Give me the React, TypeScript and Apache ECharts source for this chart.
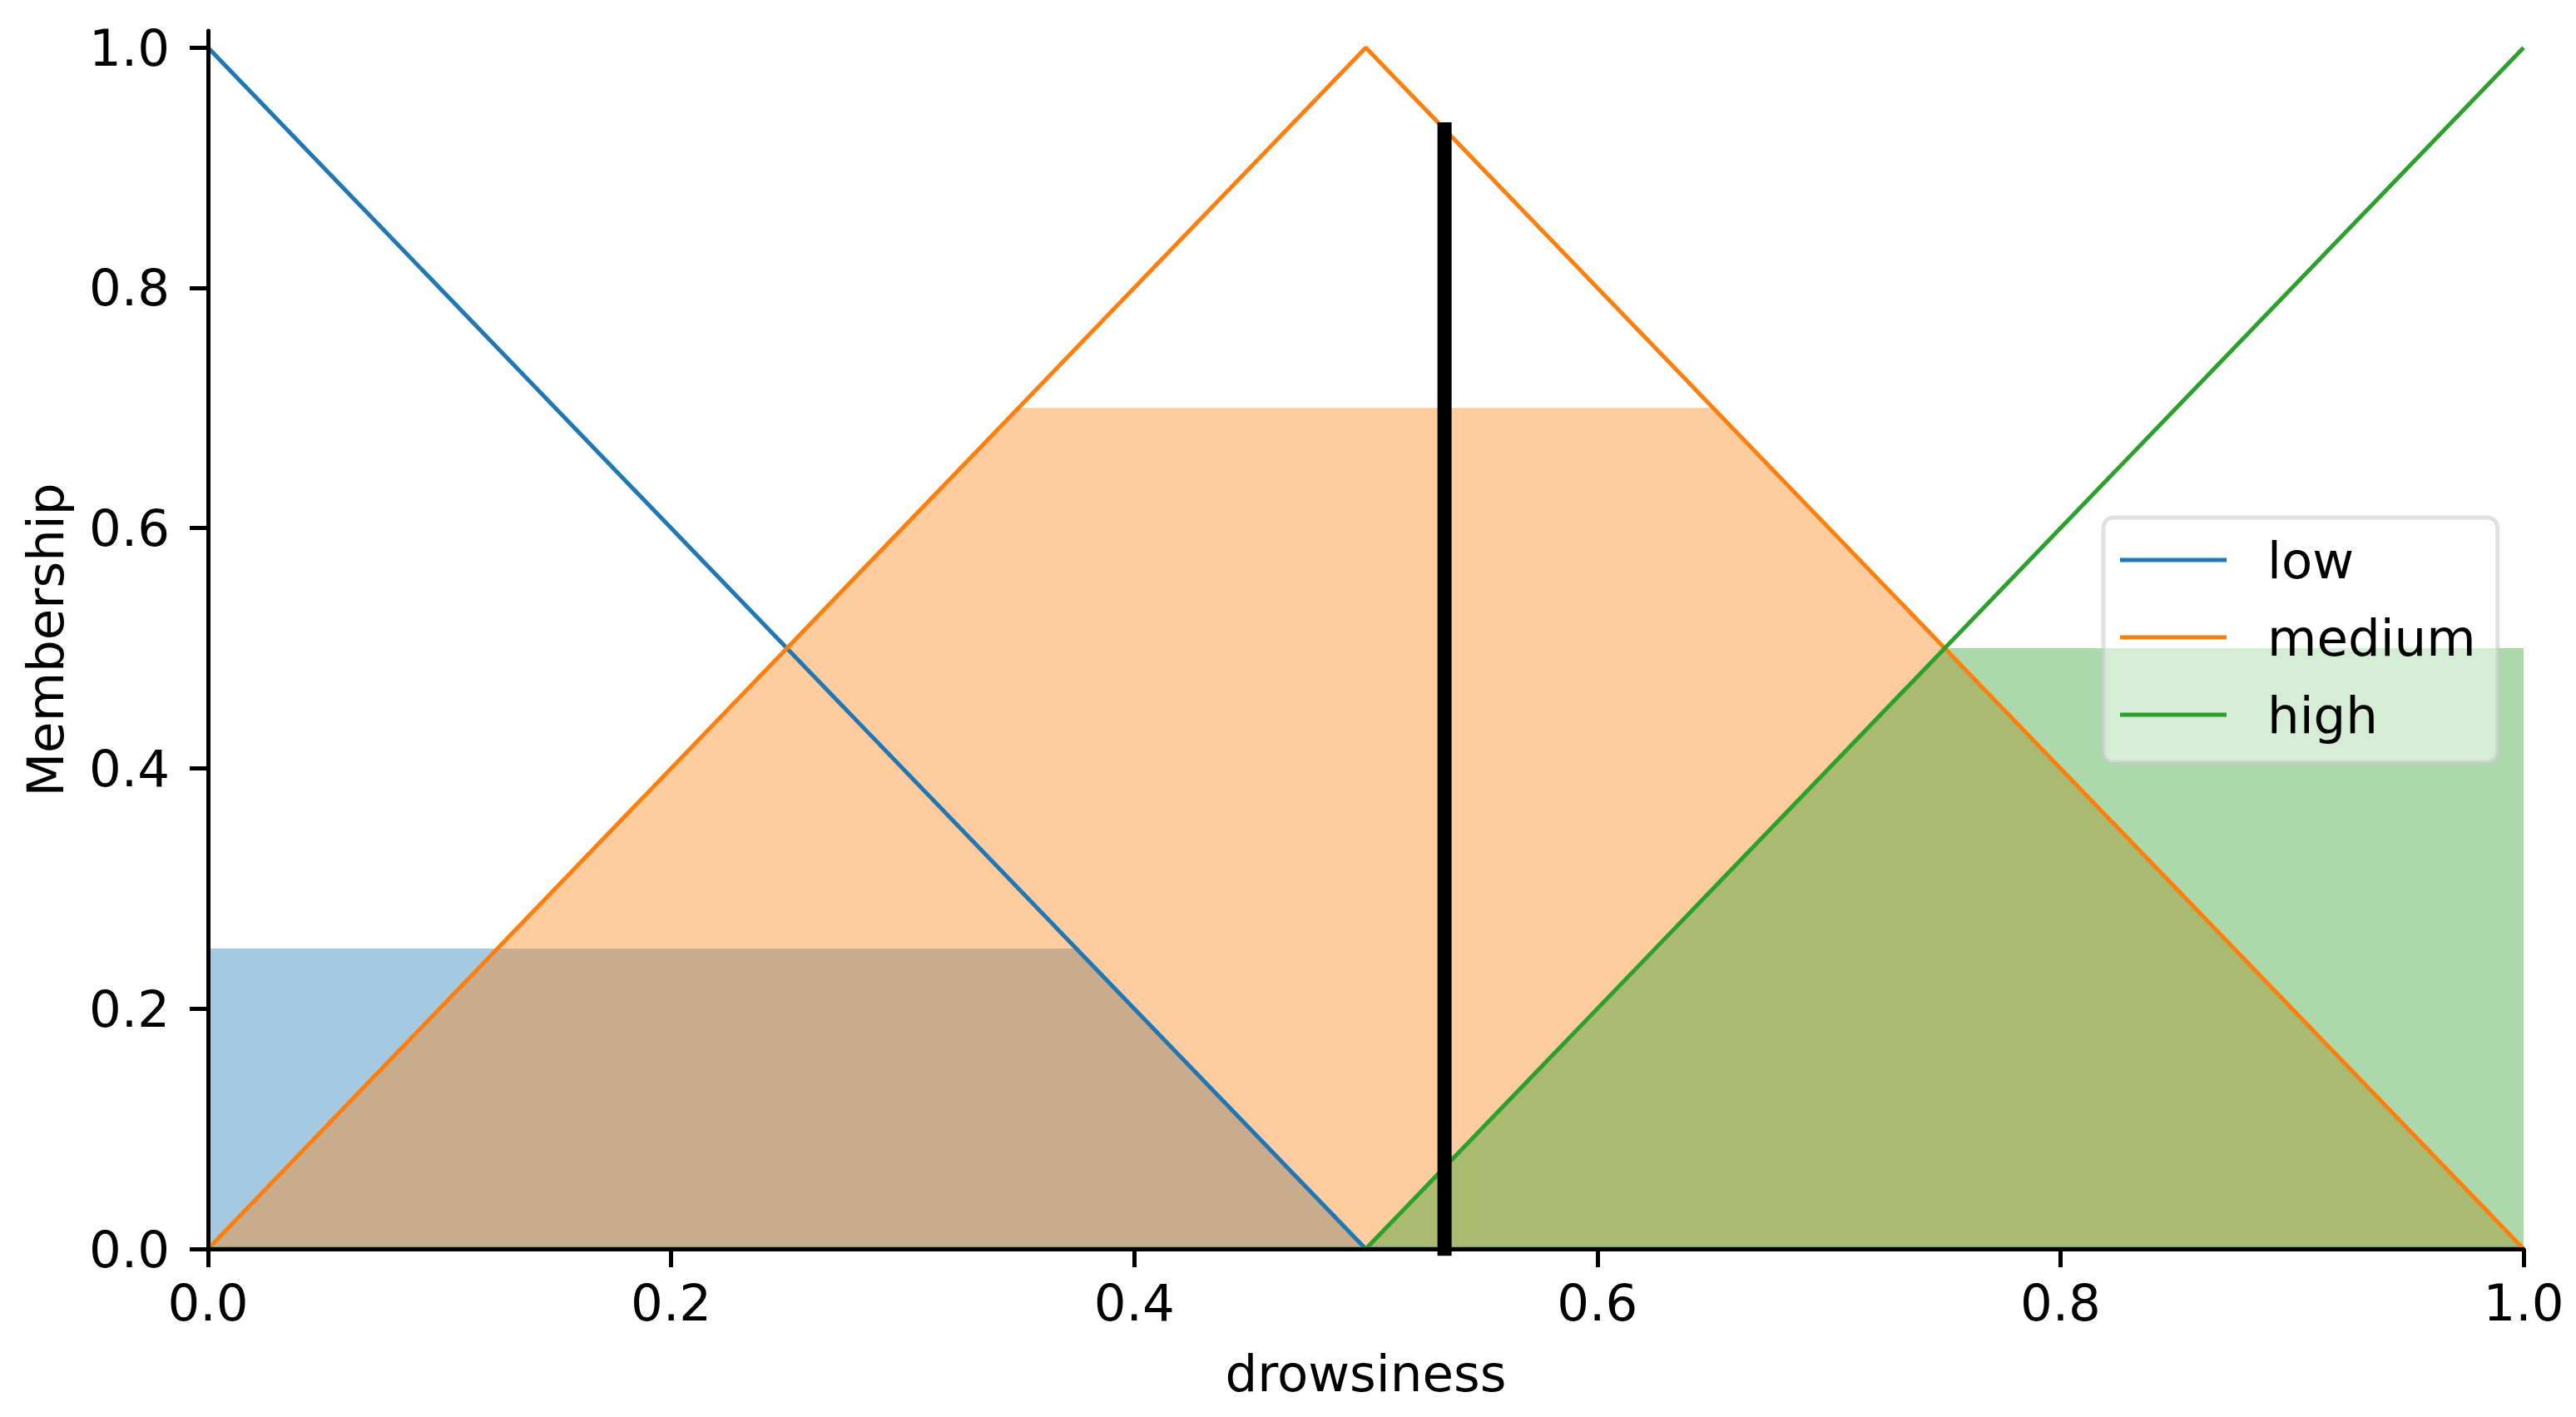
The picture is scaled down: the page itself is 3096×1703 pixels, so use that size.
import React, { useEffect, useRef } from "react";
import * as echarts from "echarts";

const X_TICKS = [0, 0.2, 0.4, 0.6, 0.8, 1.0];
const Y_TICKS = [0, 0.2, 0.4, 0.6, 0.8, 1.0];
const TERMS = ["low", "medium", "high"];
const COLORS = ["#1f77b4", "#ff7f0e", "#2ca02c"];

const LOW_X = [0, 0.5, 1];
const LOW_Y = [1, 0, 0];
const MED_X = [0, 0.5, 1];
const MED_Y = [0, 1, 0];
const HIGH_X = [0, 0.5, 1];
const HIGH_Y = [0, 0, 1];

const LOW_FILL_X = [0, 0.375, 0.5, 1];
const LOW_FILL_Y = [0.25, 0.25, 0, 0];
const MED_FILL_X = [0, 0.35, 0.65, 1];
const MED_FILL_Y = [0, 0.7, 0.7, 0];
const HIGH_FILL_X = [0, 0.5, 0.75, 1];
const HIGH_FILL_Y = [0, 0, 0.5, 0.5];

const CRISP_X = [0.534, 0.534];
const CRISP_Y = [0, 0.932];

const X_NAME = "drowsiness";
const Y_NAME = "Membership";

const FONT = "DejaVu Sans";
const FS = 61;

function pairs(xs: number[], ys: number[]) {
  return xs.map((x, i) => [x, ys[i]]);
}

export default function App() {
  const ref = useRef<HTMLDivElement>(null);
  useEffect(() => {
    if (!ref.current) return;
    const chart = echarts.init(ref.current, null, { renderer: "svg" });
    const curves = [
      pairs(LOW_X, LOW_Y),
      pairs(MED_X, MED_Y),
      pairs(HIGH_X, HIGH_Y),
    ];
    const fills = [
      pairs(LOW_FILL_X, LOW_FILL_Y),
      pairs(MED_FILL_X, MED_FILL_Y),
      pairs(HIGH_FILL_X, HIGH_FILL_Y),
    ];
    const series: any[] = [];
    fills.forEach((d, i) => {
      series.push({
        name: TERMS[i] + " fill",
        type: "line",
        data: d,
        symbol: "none",
        silent: true,
        color: COLORS[i],
        lineStyle: { width: 0, opacity: 0 },
        areaStyle: { color: COLORS[i], opacity: 0.4, origin: "start" },
        z: 2,
      });
    });
    curves.forEach((d, i) => {
      series.push({
        name: TERMS[i],
        type: "line",
        data: d,
        symbol: "none",
        color: COLORS[i],
        lineStyle: { width: 5, color: COLORS[i] },
        z: 2,
      });
    });
    series.push({
      name: "crisp",
      type: "line",
      data: pairs(CRISP_X, CRISP_Y),
      symbol: "none",
      color: "#000",
      lineStyle: { width: 17, color: "#000", cap: "square" },
      z: 2,
    });

    chart.setOption({
      animation: false,
      backgroundColor: "#ffffff",
      grid: { left: 250, right: 63, top: 37, bottom: 202 },
      legend: {
        data: TERMS,
        orient: "vertical",
        left: 2528,
        top: 622,
        icon: "rect",
        itemWidth: 128,
        itemHeight: 5,
        itemGap: 31,
        padding: [20, 26, 26, 20],
        backgroundColor: "rgba(255,255,255,0.5)",
        borderColor: "rgba(204,204,204,0.6)",
        borderWidth: 5,
        borderRadius: 12,
        textStyle: {
          fontFamily: FONT,
          fontSize: FS,
          color: "#000",
          lineHeight: 62,
          padding: [0, 0, 0, 44],
        },
      },
      xAxis: {
        type: "value",
        min: 0,
        max: 1,
        interval: 0.2,
        name: X_NAME,
        nameLocation: "middle",
        nameGap: 119,
        nameTextStyle: { fontFamily: FONT, fontSize: FS, color: "#000" },
        z: 5,
        axisLine: { show: true, onZero: false, lineStyle: { color: "#000", width: 5 } },
        axisTick: { show: true, inside: false, length: 22, lineStyle: { color: "#000", width: 5 } },
        axisLabel: {
          fontFamily: FONT,
          fontSize: FS,
          color: "#000",
          margin: 34,
          formatter: (v: number) => v.toFixed(1),
          customValues: X_TICKS,
        },
        splitLine: { show: false },
      },
      yAxis: {
        type: "value",
        min: 0,
        max: 1.014,
        name: Y_NAME,
        nameLocation: "middle",
        nameGap: 165,
        nameRotate: 90,
        nameTextStyle: { fontFamily: FONT, fontSize: FS, color: "#000" },
        z: 5,
        axisLine: { show: true, onZero: false, lineStyle: { color: "#000", width: 5 } },
        axisTick: {
          show: true,
          inside: false,
          length: 22,
          lineStyle: { color: "#000", width: 5 },
          customValues: Y_TICKS,
        },
        axisLabel: {
          fontFamily: FONT,
          fontSize: FS,
          color: "#000",
          margin: 46,
          formatter: (v: number) => v.toFixed(1),
          customValues: Y_TICKS,
        },
        splitLine: { show: false },
      },
      series,
    });
    return () => chart.dispose();
  }, []);
  return (
    <div
      ref={ref}
      style={{ position: "absolute", left: 0, top: 0, width: 3096, height: 1703 }}
    />
  );
}
